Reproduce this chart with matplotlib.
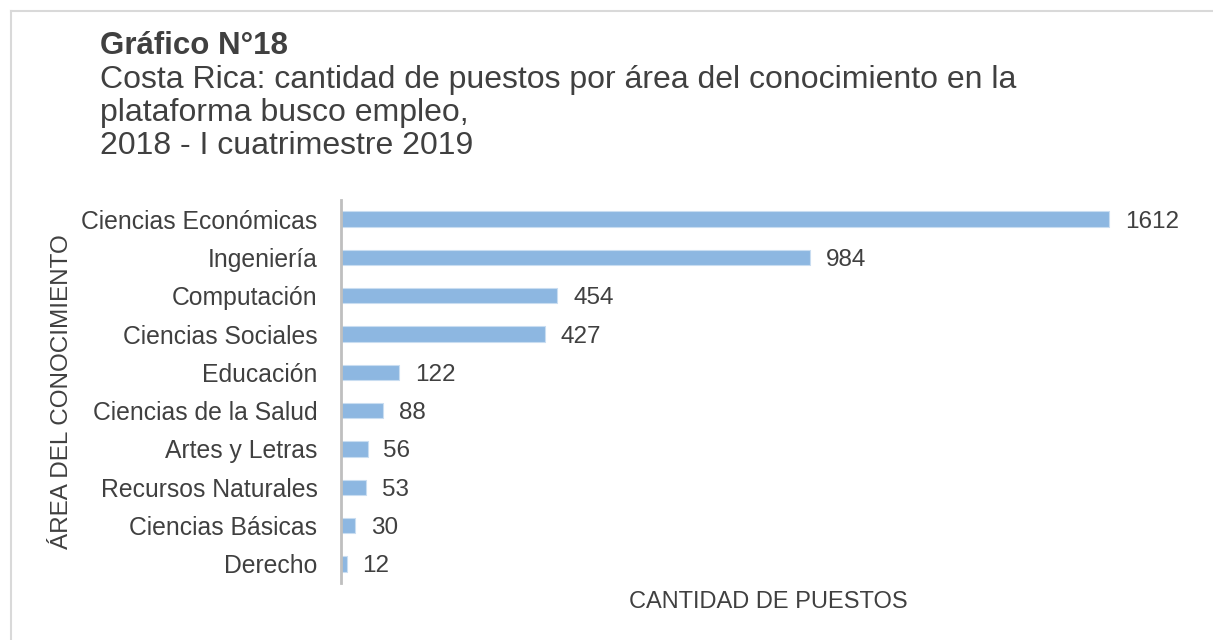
import matplotlib
matplotlib.use("Agg")
import matplotlib.pyplot as plt
from matplotlib.lines import Line2D

# ── data ──────────────────────────────────────────────────────────────────────
AREAS = [
    "Ciencias Económicas", "Ingeniería", "Computación", "Ciencias Sociales",
    "Educación", "Ciencias de la Salud", "Artes y Letras", "Recursos Naturales",
    "Ciencias Básicas", "Derecho",
]
PUESTOS = [1612, 984, 454, 427, 122, 88, 56, 53, 30, 12]

TITLE_BOLD = "Gráfico N°18"
TITLE_LINES = [
    "Costa Rica: cantidad de puestos por área del conocimiento en la",
    "plataforma busco empleo,",
    "2018 - I cuatrimestre 2019",
]

# ── plot ──────────────────────────────────────────────────────────────────────
plt.rcParams["font.family"] = ["Liberation Sans", "DejaVu Sans"]
TEXT = "#404040"
BAR = "#8DB7E1"
W, H = 1213, 640

fig = plt.figure(figsize=(W / 100, H / 100), dpi=100)
fig.patch.set_facecolor("white")

ax = fig.add_axes([341 / W, 1 - 583 / H, 858 / W, 383 / H])
y = list(range(len(AREAS)))
ax.barh(y, PUESTOS, height=0.4, color=BAR, edgecolor="#C9DDF1", linewidth=0.8)
for yi, v in zip(y, PUESTOS):
    ax.text(v + 33, yi, str(v), ha="left", va="center_baseline",
            fontsize=17.5, color=TEXT)

ax.set_ylim(len(AREAS) - 0.5, -0.5)
ax.set_xlim(0, 1800)
ax.set_yticks(y)
ax.set_yticklabels(AREAS, fontsize=17.8, color=TEXT)
ax.tick_params(axis="y", length=0, pad=17)
ax.set_xticks([])
for s in ("top", "right", "bottom"):
    ax.spines[s].set_visible(False)
ax.spines["left"].set_color("#BFBFBF")
ax.spines["left"].set_linewidth(2)

fig.text(62 / W, 1 - 392 / H, "ÁREA DEL CONOCIMIENTO", rotation=90,
         ha="center", va="center", fontsize=17.5, color=TEXT)
fig.text(768 / W, 1 - 602 / H, "CANTIDAD DE PUESTOS",
         ha="center", va="center", fontsize=17, color=TEXT)

fig.text(100 / W, 1 - 54 / H, TITLE_BOLD, ha="left", va="baseline",
         fontsize=22.5, fontweight="bold", color=TEXT)
for i, line in enumerate(TITLE_LINES):
    fig.text(100 / W, 1 - (88 + 33 * i) / H, line, ha="left", va="baseline",
             fontsize=23, color=TEXT)

# outer frame
fig.add_artist(Line2D([11 / W, 11 / W], [0, 1 - 11 / H], transform=fig.transFigure,
                      color="#D9D9D9", linewidth=1.5))
fig.add_artist(Line2D([11 / W, 1], [1 - 11 / H, 1 - 11 / H], transform=fig.transFigure,
                      color="#D9D9D9", linewidth=1.5))

fig.savefig("out.png", dpi=100, facecolor="white")
